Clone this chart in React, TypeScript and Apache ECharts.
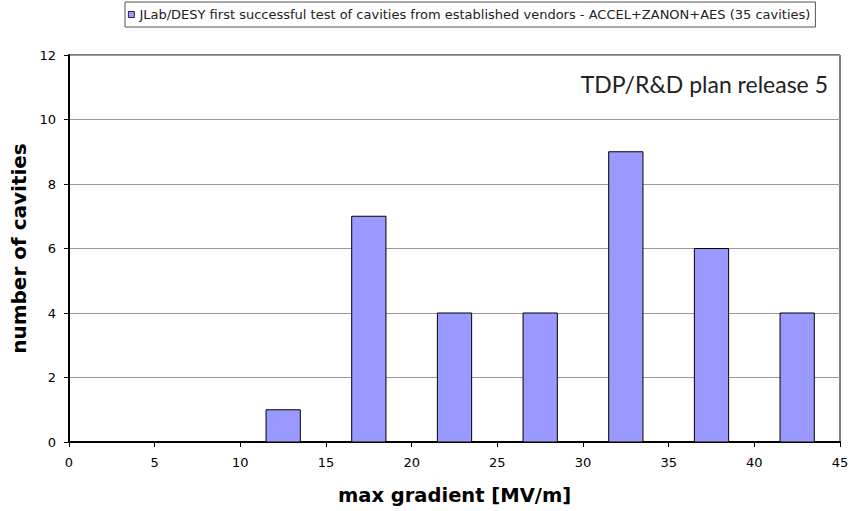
import React, { useEffect, useRef } from "react";
import * as echarts from "echarts";

const binCenters = [12.5, 17.5, 22.5, 27.5, 32.5, 37.5, 42.5];
const counts = [1, 7, 4, 4, 9, 6, 4];
const binWidth = 2;
const seriesName =
  "JLab/DESY first successful test of cavities from established vendors - ACCEL+ZANON+AES (35 cavities)";
const annotation = "TDP/R&D plan release 5";

export default function App() {
  const ref = useRef<HTMLDivElement>(null);
  useEffect(() => {
    const chart = echarts.init(ref.current!, null, { renderer: "svg" });
    const data = binCenters.map((c, i) => [c, counts[i]]);
    chart.setOption({
      animation: false,
      backgroundColor: "#ffffff",
      textStyle: { fontFamily: "DejaVu Sans, Arial, sans-serif" },
      grid: {
        left: 69,
        right: 12,
        top: 55,
        bottom: 69,
        show: true,
        borderColor: "#000",
        borderWidth: 1,
        backgroundColor: "transparent",
      },
      legend: {
        left: 125,
        top: 2,
        padding: [6, 5, 6, 3],
        borderColor: "#555",
        borderWidth: 1,
        itemWidth: 6,
        itemHeight: 6,
        itemGap: 4,
        icon: "rect",
        textStyle: { fontSize: 13, color: "#222", fontFamily: "DejaVu Sans" },
        data: [
          {
            name: seriesName,
            itemStyle: { color: "#9999FF", borderColor: "#000", borderWidth: 0.8 },
          },
        ],
      },
      xAxis: {
        type: "value",
        min: 0,
        max: 45,
        interval: 5,
        name: "max gradient [MV/m]",
        nameLocation: "middle",
        nameGap: 43,
        nameTextStyle: { fontSize: 19.5, fontWeight: "bold", color: "#000", fontFamily: "DejaVu Sans" },
        axisLine: { show: true, lineStyle: { color: "#000", width: 2 } },
        axisTick: { show: true, length: 5, lineStyle: { color: "#000", width: 1 } },
        axisLabel: { fontSize: 13, color: "#000", margin: 14, fontFamily: "DejaVu Sans" },
        splitLine: { show: false },
      },
      yAxis: {
        type: "value",
        min: 0,
        max: 12,
        interval: 2,
        name: "number of cavities",
        nameLocation: "middle",
        nameGap: 36,
        nameTextStyle: { fontSize: 20, fontWeight: "bold", color: "#000", fontFamily: "DejaVu Sans" },
        axisLine: { show: true, lineStyle: { color: "#000", width: 2 } },
        axisTick: { show: true, length: 5, lineStyle: { color: "#000", width: 1 } },
        axisLabel: { fontSize: 13, color: "#000", margin: 13, fontFamily: "DejaVu Sans" },
        splitLine: { show: true, lineStyle: { color: "#999", width: 1 } },
      },
      series: [
        {
          name: seriesName,
          type: "custom",
          data,
          encode: { x: 0, y: 1 },
          renderItem: (params: any, api: any) => {
            const c = api.value(0);
            const v = api.value(1);
            const p0 = api.coord([c - binWidth / 2, v]);
            const p1 = api.coord([c + binWidth / 2, 0]);
            return {
              type: "rect",
              shape: { x: p0[0], y: p0[1], width: p1[0] - p0[0], height: p1[1] - p0[1] },
              style: { fill: "#9999FF", stroke: "#000", lineWidth: 1 },
            };
          },
          itemStyle: { color: "#9999FF", borderColor: "#000", borderWidth: 1 },
          z: 1,
        },
      ],
      graphic: [
        {
          type: "text",
          x: 828,
          y: 84,
          style: {
            text: annotation,
            font: "23px Lato, 'Open Sans', sans-serif",
            fill: "#222",
            textAlign: "right",
            textVerticalAlign: "middle",
          },
        },
      ],
    });
    return () => chart.dispose();
  }, []);
  return (
    <div
      ref={ref}
      style={{ position: "fixed", left: 0, top: 0, width: 852, height: 511 }}
    />
  );
}
